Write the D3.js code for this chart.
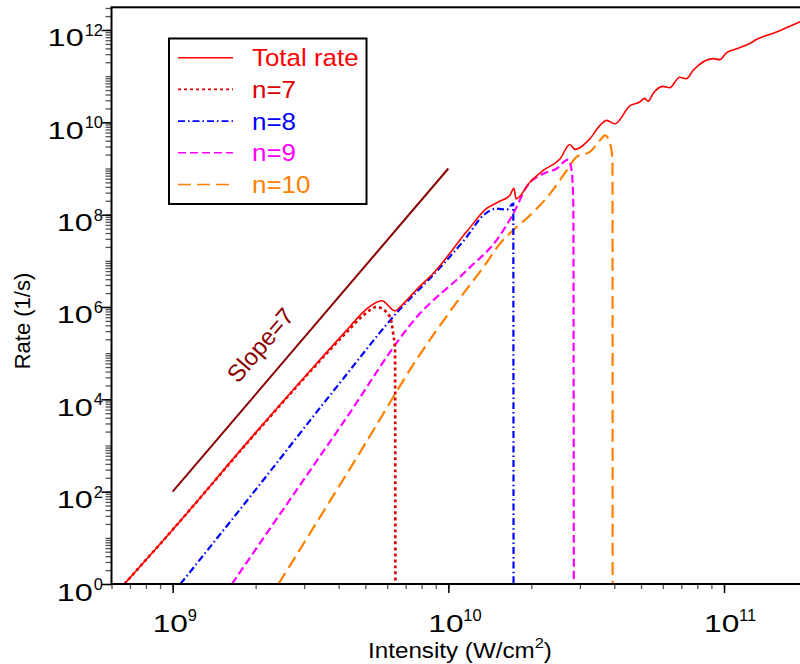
<!DOCTYPE html>
<html>
<head>
<meta charset="utf-8">
<script src="https://cdn.jsdelivr.net/npm/d3@7"></script>
<style>
  body { margin: 0; background: #fff; }
  text { font-family: "Liberation Sans", Arial, Helvetica, sans-serif; }
</style>
</head>
<body>
<svg></svg>
<script>
// values (intensity in W/cm2, rate in 1/s)
const totalI = [6.68e8, 1e9, 2e9, 3.2e9, 4.29e9, 5.0e9, 5.74e9, 6.41e9, 6.68e9, 7.78e9, 8.83e9,
  1.166e10, 1.377e10, 1.54e10, 1.67e10, 1.73e10, 1.76e10, 1.98e10, 2.21e10, 2.54e10, 2.76e10, 2.88e10, 3.26e10,
  3.55e10, 3.75e10, 4.02e10, 4.56e10, 4.95e10, 5.16e10, 5.3e10, 5.53e10, 6.0e10, 6.35e10, 6.9e10, 7.3e10, 7.73e10,
  9.12e10, 9.65e10, 1.02e11, 1.11e11, 1.24e11, 1.31e11, 1.55e11, 1.88e11, 2.0e11]
const totalR = [1, 15, 1.9e3, 4.6e4, 3.2e5, 8.6e5, 1.37e6, 8.2e5, 1.0e6, 2.6e6, 5.4e6,
  4.3e7, 1.36e8, 1.97e8, 2.6e8, 3.7e8, 2.2e8, 5.1e8, 9.1e8, 1.6e9, 3.3e9, 2.6e9, 4.4e9,
  8.6e9, 1.1e10, 9.3e9, 2.3e10, 2.75e10, 3.3e10, 2.85e10, 4.2e10, 6.0e10, 5.6e10, 9.5e10, 8.8e10, 1.34e11,
  2.4e11, 2.28e11, 3.2e11, 3.9e11, 5.1e11, 6.2e11, 9.0e11, 1.49e12, 1.74e12]

const n7I = [6.68e8, 1e9, 2e9, 3.2e9, 4.29e9, 5.0e9, 5.5e9, 6.15e9, 6.31e9, 6.41e9, 6.43e9]
const n7R = [1, 15, 1.85e3, 4.4e4, 2.9e5, 7.2e5, 1.0e6, 6.1e5, 2.6e5, 1.15e5, 1e-3]

const n8I = [1.067e9, 2e9, 4e9, 6.68e9, 8.83e9, 1.166e10, 1.34e10, 1.496e10, 1.63e10, 1.72e10, 1.725e10]
const n8R = [1, 1.1e2, 2.1e4, 9.0e5, 5.0e6, 3.3e7, 9.7e7, 1.35e8, 1.29e8, 1.74e8, 1e-3]

const n9I = [1.64e9, 4.05e9, 7.78e9, 1.166e10, 1.54e10, 1.745e10, 1.92e10, 2.21e10, 2.47e10, 2.72e10, 2.8e10, 2.84e10, 2.855e10]
const n9R = [1, 2.5e3, 6.6e5, 6.2e6, 3.56e7, 1.24e8, 4.0e8, 7.7e8, 9.9e8, 1.56e9, 9.1e8, 1.74e8, 1e-3]

const n10I = [2.42e9, 5e9, 7.78e9, 1.042e10, 1.34e10, 1.54e10, 1.745e10, 1.95e10, 2.34e10, 2.69e10, 2.92e10, 3.26e10, 3.55e10, 3.7e10, 3.86e10, 3.94e10, 3.945e10]
const n10R = [1, 1.1e3, 8.3e4, 1.0e6, 7.3e6, 2.36e7, 5.0e7, 8.9e7, 2.86e8, 9.1e8, 1.78e9, 2.28e9, 4.1e9, 5.2e9, 3.5e9, 1.5e9, 1e-3]

const slopeI = [1e9, 1e10]
const slopeR = [1e2, 1e9]

const xMajor = [9, 10, 11]
const yMajor = [0, 2, 4, 6, 8, 10, 12]
const legendLabels = ['Total rate', 'n=7', 'n=8', 'n=9', 'n=10']

const svg = d3.select('svg')
  .attr('width', 800)
  .attr('height', 664)

const x = d3.scaleLog().domain([6e8, 2e11]).range([111.5, 807])
const y = d3.scaleLog().domain([1, 3.1e12]).range([584, 7.3])

const series = [
  { I: totalI, R: totalR, color: '#ff0000', width: 1.6, dash: null },
  { I: n7I, R: n7R, color: '#dd0000', width: 2.6, dash: '3,3' },
  { I: n8I, R: n8R, color: '#0000ff', width: 2.2, dash: '7,3,1.5,3' },
  { I: n9I, R: n9R, color: '#ff00ff', width: 2.2, dash: '8,4' },
  { I: n10I, R: n10R, color: '#ff8000', width: 2.2, dash: '13,6' }
]

svg.append('clipPath').attr('id', 'plot')
  .append('rect')
  .attr('x', x.range()[0]).attr('y', y.range()[1])
  .attr('width', x.range()[1] - x.range()[0])
  .attr('height', y.range()[0] - y.range()[1])

// minor ticks
const minorY = []
for (let k = 0; k <= 12; k++) for (let m = 1; m <= 9; m++) if (m * 10 ** k <= 3.1e12) minorY.push(m * 10 ** k)
const minorX = []
for (let k = 8; k <= 11; k++) for (let m = 1; m <= 9; m++) { const v = m * 10 ** k; if (v >= 6e8 && v <= 2e11) minorX.push(v) }

function styleAxis(g, color, w) {
  g.select('.domain').remove()
  g.selectAll('line').attr('stroke', color).attr('stroke-width', w)
}

svg.append('g').attr('transform', `translate(${x.range()[0]},0)`)
  .call(d3.axisLeft(y).tickValues(minorY).tickSize(6).tickFormat(''))
  .call(g => styleAxis(g, '#555', 1.3))
svg.append('g').attr('transform', `translate(${x.range()[0]},0)`)
  .call(d3.axisLeft(y).tickValues(yMajor.map(e => 10 ** e)).tickSize(10).tickFormat(''))
  .call(g => styleAxis(g, '#000', 1.5))
svg.append('g').attr('transform', `translate(0,${y.range()[0]})`)
  .call(d3.axisBottom(x).tickValues(minorX).tickSize(5).tickFormat(''))
  .call(g => styleAxis(g, '#555', 1.3))
svg.append('g').attr('transform', `translate(0,${y.range()[0]})`)
  .call(d3.axisBottom(x).tickValues(xMajor.map(e => 10 ** e)).tickSize(9).tickFormat(''))
  .call(g => styleAxis(g, '#000', 1.5))

// tick labels 10^n
yMajor.forEach(e => {
  const ty = y(10 ** e)
  const sup = svg.append('text')
    .attr('x', 103).attr('y', ty + 6)
    .attr('text-anchor', 'end')
    .attr('font-size', 16.5)
    .text(e)
  const w = sup.node().getComputedTextLength()
  svg.append('text')
    .attr('transform', `translate(${103 - w - 1},${ty + 16.5}) scale(1.35,1)`)
    .attr('text-anchor', 'end')
    .attr('font-size', 24)
    .text('10')
})
xMajor.forEach(e => {
  const tx = x(10 ** e)
  svg.append('text')
    .attr('transform', `translate(${tx - 20},632) scale(1.32,1)`)
    .attr('font-size', 24)
    .text('10')
  svg.append('text')
    .attr('x', tx + 15).attr('y', 621)
    .attr('font-size', 16.5)
    .text(e)
})

// axis titles
const xt = svg.append('text')
  .attr('transform', 'translate(460,658) scale(1.1,1)')
  .attr('text-anchor', 'middle')
  .attr('font-size', 22)
xt.append('tspan').text('Intensity (W/cm')
xt.append('tspan').attr('font-size', 15).attr('dy', -10).text('2')
xt.append('tspan').attr('dy', 10).text(')')

svg.append('text')
  .attr('transform', 'translate(30,321) rotate(-90)')
  .attr('text-anchor', 'middle')
  .attr('font-size', 22)
  .text('Rate (1/s)')

// curves
const line = d3.line()
  .x(d => x(d[0]))
  .y(d => y(d[1]))
  .curve(d3.curveMonotoneX)

const curves = svg.append('g').attr('clip-path', 'url(#plot)')

series.slice().reverse().forEach(s => {
  curves.append('path')
    .datum(s.I.map((v, i) => [v, s.R[i]]))
    .attr('d', line)
    .attr('fill', 'none')
    .attr('stroke', s.color)
    .attr('stroke-width', s.width)
    .attr('stroke-dasharray', s.dash)
})

// slope = 7 guide
curves.append('path')
  .datum(slopeI.map((v, i) => [v, slopeR[i]]))
  .attr('d', d3.line().x(d => x(d[0])).y(d => y(d[1])))
  .attr('stroke', '#8b0000')
  .attr('stroke-width', 2)

const ang = Math.atan2(y(slopeR[1]) - y(slopeR[0]), x(slopeI[1]) - x(slopeI[0])) * 180 / Math.PI
svg.append('text')
  .attr('transform', `translate(${x(2.08e9)},${y(1.5e5)}) rotate(${ang})`)
  .attr('text-anchor', 'middle')
  .attr('dy', '0.35em')
  .attr('font-size', 24)
  .attr('fill', '#8b0000')
  .text('Slope=7')

// frame
svg.append('rect')
  .attr('x', x.range()[0]).attr('y', y.range()[1])
  .attr('width', x.range()[1] - x.range()[0])
  .attr('height', y.range()[0] - y.range()[1])
  .attr('fill', 'none')
  .attr('stroke', '#000')
  .attr('stroke-width', 2)

// legend
const legend = svg.append('g')
legend.append('rect')
  .attr('x', 169).attr('y', 38.5)
  .attr('width', 197.5).attr('height', 165.5)
  .attr('fill', '#fff')
  .attr('stroke', '#000')
  .attr('stroke-width', 2)

legendLabels.forEach((lab, i) => {
  const s = series[i]
  const ly = 57.7 + i * 31.7
  legend.append('line')
    .attr('x1', 178).attr('x2', 233)
    .attr('y1', ly).attr('y2', ly)
    .attr('stroke', s.color)
    .attr('stroke-width', 1.6)
    .attr('stroke-dasharray', s.dash)
  legend.append('text')
    .attr('transform', `translate(252,${ly + 8.5}) scale(1.08,1)`)
    .attr('font-size', 24)
    .attr('fill', s.color)
    .text(lab)
})
</script>
</body>
</html>
